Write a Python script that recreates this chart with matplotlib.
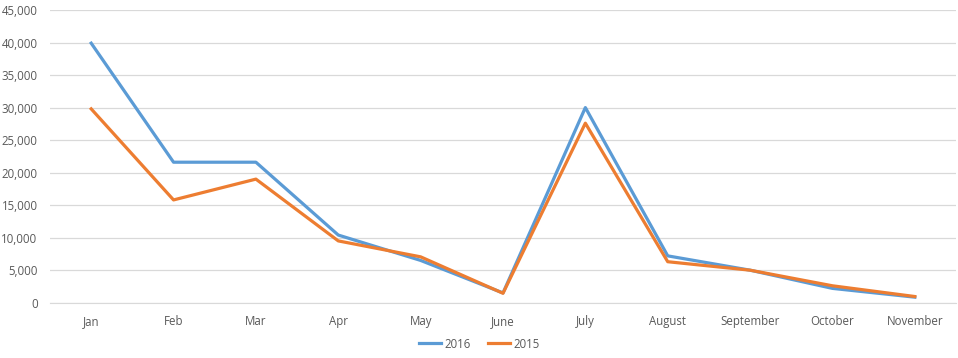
import matplotlib
matplotlib.use("Agg")
import matplotlib.pyplot as plt
from matplotlib.ticker import FuncFormatter

months = ["Jan", "Feb", "Mar", "Apr", "May", "June", "July", "August",
          "September", "October", "November"]
s2016 = [39900, 21600, 21600, 10400, 6500, 1500, 30000, 7200, 5000, 2200, 850]
s2015 = [29800, 15800, 19000, 9500, 7050, 1450, 27600, 6300, 5000, 2600, 950]

plt.rcParams['font.family'] = ['Open Sans', 'DejaVu Sans']
fig = plt.figure(figsize=(9.58, 3.58), dpi=100)
ax = fig.add_axes([50/958, 1 - 302.7/358, (956 - 50)/958, (302.7 - 10)/358])

x = list(range(len(months)))
ax.plot(x, s2016, color="#5B9BD5", lw=2.3, label="2016", solid_joinstyle="round")
ax.plot(x, s2015, color="#ED7D31", lw=2.3, label="2015", solid_joinstyle="round")

ax.set_xlim(-0.5, len(months) - 0.5)
ax.set_ylim(0, 45000)
ax.set_yticks(range(0, 45001, 5000))
ax.yaxis.set_major_formatter(FuncFormatter(lambda v, p: f"{int(v):,}"))
ax.set_xticks(x)
ax.set_xticklabels(months)
ax.grid(axis="y", color="#D9D9D9", lw=0.9)
ax.set_axisbelow(True)
for s in ["top", "right", "left"]:
    ax.spines[s].set_visible(False)
ax.spines["bottom"].set_color("#D9D9D9")
ax.tick_params(axis="both", length=0, labelsize=8.3, colors="#595959")
ax.tick_params(axis="x", pad=9)
ax.tick_params(axis="y", pad=9)

leg = fig.legend(loc="center", bbox_to_anchor=(0.5, 1 - 344/358), ncol=2,
                 frameon=False, fontsize=8.3, handlelength=1.9, handletextpad=0.3,
                 columnspacing=1.5)
for t in leg.get_texts():
    t.set_color("#595959")

fig.savefig("out.png", dpi=100)
